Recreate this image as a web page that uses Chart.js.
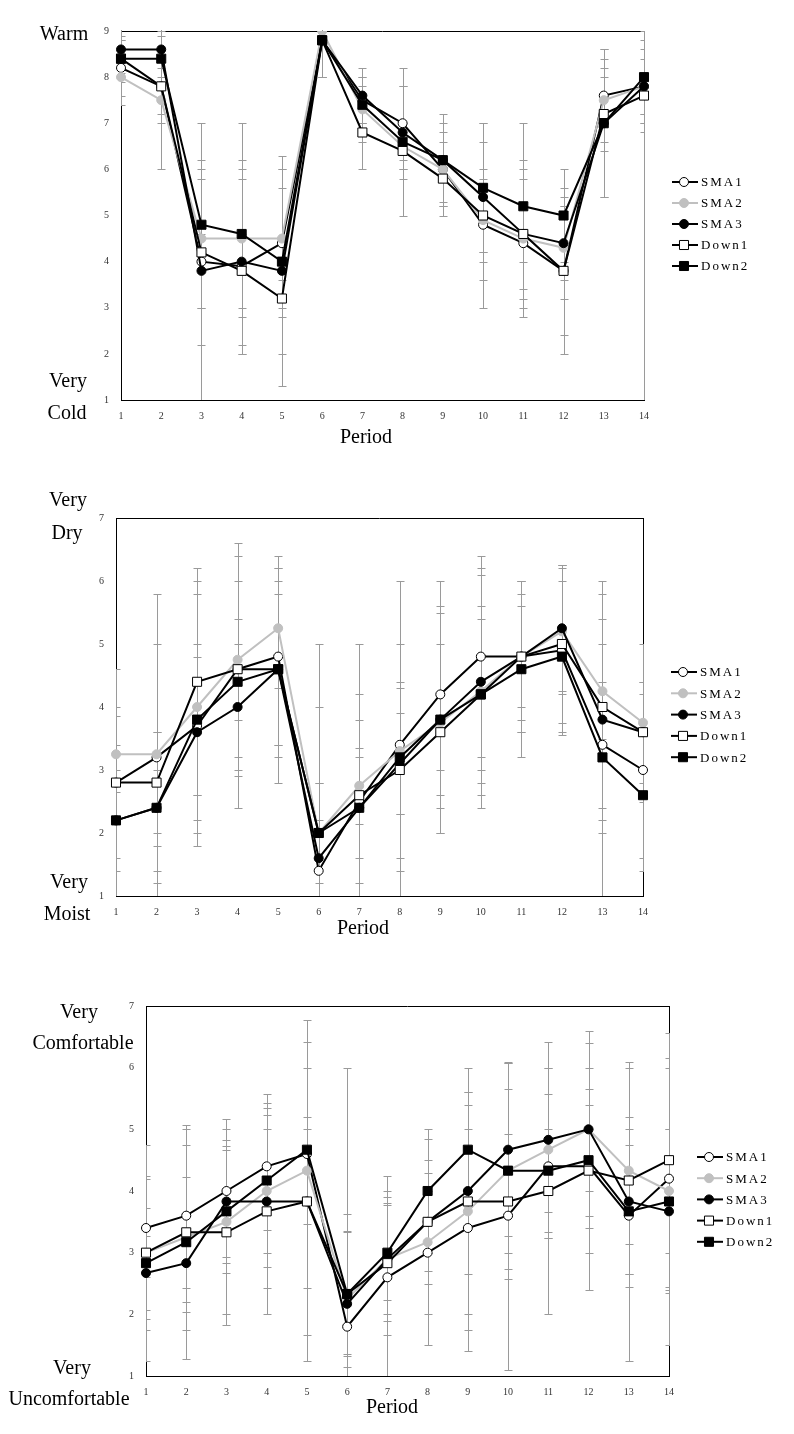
<!DOCTYPE html>
<html>
<head>
<meta charset="utf-8">
<script src="https://cdn.jsdelivr.net/npm/chart.js@4.4.1/dist/chart.umd.min.js"></script>
<style>
  body { margin: 0; background: #fff; }
  #page { position: relative; width: 794px; height: 1434px; overflow: hidden; }
  canvas { position: absolute; left: 0; }
  .lbl { position: absolute; font: 20px "Liberation Serif", "Times New Roman", serif; color: #000;
         transform: translate(-50%, -50%); white-space: nowrap; }
</style>
</head>
<body>
<div id="page">
  <canvas id="tempChart" width="794" height="470" style="top:0"></canvas>
  <canvas id="humChart" width="794" height="480" style="top:470px"></canvas>
  <canvas id="comfChart" width="794" height="484" style="top:950px"></canvas>

  <div class="lbl" style="left:64px;top:33px">Warm</div>
  <div class="lbl" style="left:68px;top:380px">Very</div>
  <div class="lbl" style="left:67px;top:412px">Cold</div>
  <div class="lbl" style="left:366px;top:436px">Period</div>

  <div class="lbl" style="left:68px;top:499px">Very</div>
  <div class="lbl" style="left:67px;top:532px">Dry</div>
  <div class="lbl" style="left:69px;top:881px">Very</div>
  <div class="lbl" style="left:67px;top:913px">Moist</div>
  <div class="lbl" style="left:363px;top:927px">Period</div>

  <div class="lbl" style="left:79px;top:1011px">Very</div>
  <div class="lbl" style="left:83px;top:1042px">Comfortable</div>
  <div class="lbl" style="left:72px;top:1367px">Very</div>
  <div class="lbl" style="left:69px;top:1398px">Uncomfortable</div>
  <div class="lbl" style="left:392px;top:1406px">Period</div>
</div>
<script>
const periods = ['1', '2', '3', '4', '5', '6', '7', '8', '9', '10', '11', '12', '13', '14'];
const seriesNames = ['SMA1', 'SMA2', 'SMA3', 'Down1', 'Down2'];

// Warm - cold (1-9)
const tempSMA1 = [8.2, 7.8, 4.0, 3.9, 4.4, 8.8, 7.5, 7.0, 6.0, 4.8, 4.4, 3.8, 7.6, 7.8];
const tempSMA2 = [8.0, 7.5, 4.5, 4.5, 4.5, 9.0, 7.3, 6.5, 6.0, 4.9, 4.5, 4.3, 7.5, 7.8];
const tempSMA3 = [8.6, 8.6, 3.8, 4.0, 3.8, 8.8, 7.6, 6.8, 6.2, 5.4, 4.6, 4.4, 7.0, 7.8];
const tempDown1 = [8.4, 7.8, 4.2, 3.8, 3.2, 8.8, 6.8, 6.4, 5.8, 5.0, 4.6, 3.8, 7.2, 7.6];
const tempDown2 = [8.4, 8.4, 4.8, 4.6, 4.0, 8.8, 7.4, 6.6, 6.2, 5.6, 5.2, 5.0, 7.0, 8.0];
const tempErrSMA1 = [0.6, 0.6, 3.0, 1.9, 1.2, 0.8, 0.5, 0.8, 0.8, 1.2, 1.6, 1.4, 0.6, 1.0];
const tempErrSMA2 = [0.6, 0.5, 1.5, 1.7, 1.5, 1.0, 0.7, 0.5, 1.0, 0.9, 1.3, 1.1, 0.9, 0.6];
const tempErrSMA3 = [0.5, 0.4, 0.8, 2.0, 2.5, 0.8, 0.6, 1.0, 0.4, 1.2, 0.6, 0.8, 1.6, 0.8];
const tempErrDown1 = [0.4, 1.8, 2.0, 0.8, 0.4, 0.8, 0.8, 0.4, 0.5, 2.0, 1.6, 1.8, 0.8, 0.4];
const tempErrDown2 = [0.5, 0.5, 1.0, 2.4, 2.0, 0.8, 0.4, 1.6, 1.0, 1.4, 1.8, 1.0, 1.6, 1.0];

// Dry - moist (1-7)
const humSMA1 = [2.8, 3.2, 3.7, 4.6, 4.8, 1.4, 2.5, 3.4, 4.2, 4.8, 4.8, 4.9, 3.4, 3.0];
const humSMA2 = [3.25, 3.25, 4.0, 4.75, 5.25, 2.0, 2.75, 3.3, 3.75, 4.25, 4.8, 5.2, 4.25, 3.75];
const humSMA3 = [2.2, 2.4, 3.6, 4.0, 4.6, 1.6, 2.4, 3.1, 3.8, 4.4, 4.8, 5.25, 3.8, 3.6];
const humDown1 = [2.8, 2.8, 4.4, 4.6, 4.6, 2.0, 2.6, 3.0, 3.6, 4.2, 4.8, 5.0, 4.0, 3.6];
const humDown2 = [2.2, 2.4, 3.8, 4.4, 4.6, 2.0, 2.4, 3.2, 3.8, 4.2, 4.6, 4.8, 3.2, 2.6];
const humErrSMA1 = [1.2, 1.8, 1.1, 1.4, 1.4, 1.4, 1.3, 2.6, 1.8, 1.6, 1.2, 1.35, 1.0, 1.4];
const humErrSMA2 = [0.6, 2.55, 2.0, 1.85, 0.95, 2.0, 0.6, 1.0, 1.75, 1.85, 0.8, 1.0, 0.75, 1.25];
const humErrSMA3 = [0.8, 1.2, 1.4, 1.0, 1.8, 0.6, 1.8, 0.8, 1.2, 1.8, 1.0, 1.0, 1.6, 0.8];
const humErrDown1 = [1.8, 0.8, 1.8, 0.8, 1.4, 0.8, 2.4, 1.4, 0.6, 1.2, 1.2, 1.25, 2.0, 0.6];
const humErrDown2 = [1.2, 0.6, 2.0, 2.0, 1.2, 3.0, 0.8, 1.8, 1.8, 1.4, 1.4, 1.2, 2.6, 1.2];

// Comfortable - uncomfortable (1-7)
const comfSMA1 = [3.4, 3.6, 4.0, 4.4, 4.6, 1.8, 2.6, 3.0, 3.4, 3.6, 4.4, 4.4, 3.6, 4.2];
const comfSMA2 = [3.0, 3.25, 3.5, 4.0, 4.33, 2.25, 2.9, 3.17, 3.67, 4.33, 4.67, 5.0, 4.33, 4.0];
const comfSMA3 = [2.67, 2.83, 3.83, 3.83, 3.83, 2.17, 2.9, 3.5, 4.0, 4.67, 4.83, 5.0, 3.83, 3.67];
const comfDown1 = [3.0, 3.33, 3.33, 3.67, 3.83, 2.33, 2.83, 3.5, 3.83, 3.83, 4.0, 4.33, 4.17, 4.5];
const comfDown2 = [2.83, 3.17, 3.67, 4.17, 4.67, 2.33, 3.0, 4.0, 4.67, 4.33, 4.33, 4.5, 3.67, 3.83];
const comfErrSMA1 = [0.8, 1.4, 1.17, 1.03, 2.17, 0.44, 1.65, 1.0, 2.0, 2.5, 1.17, 2.0, 1.15, 1.8];
const comfErrSMA2 = [1.75, 1.5, 1.5, 1.0, 0.87, 1.1, 0.9, 1.67, 1.93, 1.75, 1.33, 1.0, 1.67, 1.0];
const comfErrSMA3 = [0.6, 0.8, 0.9, 1.4, 2.58, 1.46, 1.0, 0.8, 2.0, 1.4, 1.59, 1.6, 1.17, 1.33];
const comfErrDown1 = [1.25, 0.9, 1.5, 1.67, 2.17, 1.0, 1.17, 1.0, 1.17, 1.1, 2.0, 1.33, 1.03, 2.06];
const comfErrDown2 = [0.9, 1.9, 1.0, 1.4, 0.33, 3.67, 0.77, 1.0, 0.93, 1.33, 0.67, 0.9, 2.42, 2.33];

const tickFont = { family: 'Liberation Serif', size: 10 };

const seriesStyles = [
    { color: '#000000', pointStyle: 'circle', radius: 4.5, fill: '#ffffff' },
    { color: '#c0c0c0', pointStyle: 'circle', radius: 4.5, fill: '#c0c0c0' },
    { color: '#000000', pointStyle: 'circle', radius: 4.5, fill: '#000000' },
    { color: '#000000', pointStyle: 'rect', radius: 6.4, fill: '#ffffff' },
    { color: '#000000', pointStyle: 'rect', radius: 6.4, fill: '#000000' }
];

// gray error bars, drawn under the lines
const errorBars = {
    id: 'errorBars',
    beforeDatasetsDraw(chart) {
        const { ctx, chartArea: a, scales: { x, y } } = chart;
        ctx.save();
        ctx.beginPath();
        ctx.rect(a.left, a.top - 1, a.right - a.left + 1, a.bottom - a.top + 1);
        ctx.clip();
        ctx.strokeStyle = '#9a9a9a';
        ctx.lineWidth = 1;
        chart.data.datasets.forEach(ds => {
            ds.data.forEach((v, i) => {
                const e = ds.err[i];
                const px = Math.round(x.getPixelForValue(i)) + 0.5;
                const hi = Math.round(y.getPixelForValue(v + e)) + 0.5;
                const lo = Math.round(y.getPixelForValue(v - e)) + 0.5;
                ctx.beginPath();
                ctx.moveTo(px, hi); ctx.lineTo(px, lo);
                ctx.moveTo(px - 4, hi); ctx.lineTo(px + 4, hi);
                ctx.moveTo(px - 4, lo); ctx.lineTo(px + 4, lo);
                ctx.stroke();
            });
        });
        ctx.restore();
    }
};

// top and right border of the plot area
const frame = {
    id: 'frame',
    beforeDatasetsDraw(chart, args, opts) {
        const { ctx, chartArea: a } = chart;
        ctx.save();
        ctx.lineWidth = 1;
        ctx.strokeStyle = '#000';
        ctx.beginPath();
        ctx.moveTo(a.left, Math.round(a.top) + 0.5);
        ctx.lineTo(a.right, Math.round(a.top) + 0.5);
        ctx.stroke();
        ctx.strokeStyle = opts.rightColor;
        ctx.beginPath();
        ctx.moveTo(Math.round(a.right) + 0.5, a.top);
        ctx.lineTo(Math.round(a.right) + 0.5, a.bottom);
        ctx.stroke();
        ctx.restore();
    }
};

// legend with line + marker like the spreadsheet one
const sideLegend = {
    id: 'sideLegend',
    afterDraw(chart, args, opts) {
        const ctx = chart.ctx;
        ctx.save();
        chart.data.datasets.forEach((ds, i) => {
            const y = opts.y + i * opts.gap;
            ctx.strokeStyle = ds.borderColor;
            ctx.lineWidth = 2;
            ctx.beginPath();
            ctx.moveTo(opts.x, y);
            ctx.lineTo(opts.x + 26, y);
            ctx.stroke();
            ctx.fillStyle = ds.pointBackgroundColor;
            ctx.strokeStyle = ds.pointBorderColor;
            ctx.lineWidth = 1;
            Chart.helpers.drawPoint(ctx, {
                pointStyle: ds.pointStyle,
                radius: ds.pointRadius,
                rotation: 0,
                borderWidth: 1
            }, opts.x + 12, y);
            ctx.fillStyle = '#000';
            ctx.font = '13px "Liberation Serif"';
            ctx.letterSpacing = '2px';
            ctx.textBaseline = 'middle';
            ctx.fillText(ds.label, opts.x + 29, y + 1);
        });
        ctx.restore();
    }
};

function makeChart(id, series, errs, yMax, box) {
    const datasets = series.map((values, i) => {
        const s = seriesStyles[i];
        return {
            label: seriesNames[i],
            data: values,
            err: errs[i],
            order: 5 - i,
            borderColor: s.color,
            borderWidth: 2,
            pointStyle: s.pointStyle,
            pointRadius: s.radius,
            pointHoverRadius: s.radius,
            pointBackgroundColor: s.fill,
            pointBorderColor: s.color,
            pointBorderWidth: 1,
            tension: 0
        };
    });
    return new Chart(document.getElementById(id).getContext('2d'), {
        type: 'line',
        data: { labels: periods, datasets: datasets },
        options: {
            responsive: false,
            animation: false,
            events: [],
            layout: { padding: { top: box.top, right: box.right, left: 0, bottom: 0 } },
            scales: {
                x: {
                    type: 'category',
                    offset: false,
                    grid: { display: false, drawTicks: false },
                    border: { display: true, color: '#000', width: 1 },
                    ticks: { font: tickFont, color: '#333', padding: 10, maxRotation: 0, autoSkip: false },
                    afterFit: s => { s.height = box.xh; }
                },
                y: {
                    min: 1,
                    max: yMax,
                    grid: { display: false, drawTicks: false },
                    border: { display: true, color: '#000', width: 1 },
                    ticks: { stepSize: 1, font: tickFont, color: '#333', padding: 12 },
                    afterFit: s => { s.width = box.left; }
                }
            },
            plugins: {
                legend: { display: false },
                tooltip: { enabled: false },
                frame: { rightColor: box.rightColor },
                sideLegend: box.legend
            }
        },
        plugins: [frame, errorBars, sideLegend]
    });
}

makeChart('tempChart',
    [tempSMA1, tempSMA2, tempSMA3, tempDown1, tempDown2],
    [tempErrSMA1, tempErrSMA2, tempErrSMA3, tempErrDown1, tempErrDown2],
    9, { top: 31, right: 150, left: 121, xh: 70, rightColor: '#9a9a9a', legend: { x: 672, y: 182, gap: 21 } });

makeChart('humChart',
    [humSMA1, humSMA2, humSMA3, humDown1, humDown2],
    [humErrSMA1, humErrSMA2, humErrSMA3, humErrDown1, humErrDown2],
    7, { top: 48, right: 151, left: 116, xh: 54, rightColor: '#000', legend: { x: 671, y: 202, gap: 21.3 } });

makeChart('comfChart',
    [comfSMA1, comfSMA2, comfSMA3, comfDown1, comfDown2],
    [comfErrSMA1, comfErrSMA2, comfErrSMA3, comfErrDown1, comfErrDown2],
    7, { top: 56, right: 125, left: 146, xh: 58, rightColor: '#000', legend: { x: 697, y: 207, gap: 21.2 } });
</script>
</body>
</html>
